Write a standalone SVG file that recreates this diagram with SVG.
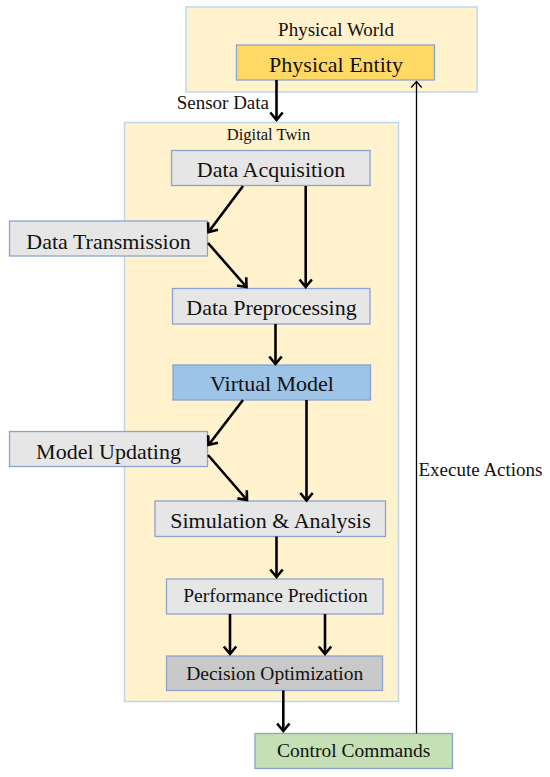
<svg xmlns="http://www.w3.org/2000/svg" width="550" height="777" viewBox="0 0 550 777">
<style>
  .t { font-family: "Liberation Serif", "Times New Roman", serif; fill: #111; text-anchor: middle; }
  .box { stroke: #8AA4CF; stroke-width: 1.3; }
  .gray { fill: #E7E6E6; }
  .cont { fill: #FFF2CC; stroke: #BDD7EE; stroke-width: 1.5; }
  .arr { stroke: #000; stroke-width: 2.6; fill: none; marker-end: url(#ah); }
  .thin { stroke: #000; stroke-width: 1.3; fill: none; marker-end: url(#ahs); }
</style>
<defs>
  <marker id="ah" markerUnits="userSpaceOnUse" markerWidth="20" markerHeight="20" refX="10" refY="10" orient="auto" overflow="visible">
    <path d="M2.5,3.8 L10,10 L2.5,16.2" fill="none" stroke="#000" stroke-width="2.6"/>
  </marker>
  <marker id="ahs" markerUnits="userSpaceOnUse" markerWidth="20" markerHeight="20" refX="10" refY="10" orient="auto" overflow="visible">
    <path d="M4,4.8 L10,10 L4,15.2" fill="none" stroke="#000" stroke-width="1.3"/>
  </marker>
</defs>

<g id="physical-world">
  <rect class="cont" x="186" y="7" width="291" height="85"/>
  <text class="t" x="336" y="36" font-size="19">Physical World</text>
</g>
<g id="digital-twin">
  <rect class="cont" x="124.5" y="122.5" width="274" height="579"/>
  <text class="t" x="268.5" y="140" font-size="16.5">Digital Twin</text>
</g>

<g id="physical-entity">
  <rect class="box" fill="#FFD966" x="236.5" y="45" width="198" height="35"/>
  <text class="t" x="336" y="72" font-size="22">Physical Entity</text>
</g>
<g id="data-acquisition">
  <rect class="box gray" x="171.5" y="150.5" width="198.5" height="35"/>
  <text class="t" x="271" y="177" font-size="22">Data Acquisition</text>
</g>
<g id="data-transmission">
  <rect class="box gray" x="9.5" y="221" width="198" height="35"/>
  <text class="t" x="108.5" y="248.5" font-size="22">Data Transmission</text>
</g>
<g id="data-preprocessing">
  <rect class="box gray" x="172.5" y="288.5" width="197.5" height="35.5"/>
  <text class="t" x="271.5" y="315" font-size="22">Data Preprocessing</text>
</g>
<g id="virtual-model">
  <rect class="box" fill="#9DC3E6" x="173" y="365" width="197.5" height="35"/>
  <text class="t" x="272" y="391" font-size="22">Virtual Model</text>
</g>
<g id="model-updating">
  <rect class="box gray" x="9.5" y="431.5" width="198" height="35"/>
  <text class="t" x="108.5" y="459" font-size="22">Model Updating</text>
</g>
<g id="simulation-analysis">
  <rect class="box gray" x="155" y="501" width="230.5" height="35.5"/>
  <text class="t" x="270.5" y="528" font-size="22">Simulation &amp; Analysis</text>
</g>
<g id="performance-prediction">
  <rect class="box gray" x="166.5" y="579" width="216.5" height="35"/>
  <text class="t" x="275.5" y="601.5" font-size="19.5">Performance Prediction</text>
</g>
<g id="decision-optimization">
  <rect class="box" fill="#C9C9C9" x="166.5" y="656" width="216" height="34.5"/>
  <text class="t" x="274.7" y="680" font-size="19.5">Decision Optimization</text>
</g>
<g id="control-commands">
  <rect class="box" fill="#C5E0B4" x="255" y="733.5" width="197.5" height="35"/>
  <text class="t" x="353.7" y="756.5" font-size="19.5">Control Commands</text>
</g>

<g id="connectors">
  <path class="arr" d="M276.5,80 L276.5,120"/>
  <text class="t" x="269" y="109" font-size="19" style="text-anchor:end">Sensor Data</text>
  <path class="arr" d="M243,186 L208.5,232"/>
  <path class="arr" d="M305.7,186 L305.7,287"/>
  <path class="arr" d="M208,243 L246.5,287"/>
  <path class="arr" d="M275.5,324 L275.5,364"/>
  <path class="arr" d="M243,400 L208.5,445"/>
  <path class="arr" d="M306.5,400 L306.5,500.5"/>
  <path class="arr" d="M208,455 L247,500"/>
  <path class="arr" d="M276.5,536.5 L276.5,577"/>
  <path class="arr" d="M230,614 L230,654"/>
  <path class="arr" d="M325,614 L325,654"/>
  <path class="arr" d="M283.3,690.5 L283.3,731"/>
  <path class="thin" d="M416.5,733.5 L416.5,81.5"/>
  <text class="t" x="418.5" y="476" font-size="19" style="text-anchor:start">Execute Actions</text>
</g>
</svg>
